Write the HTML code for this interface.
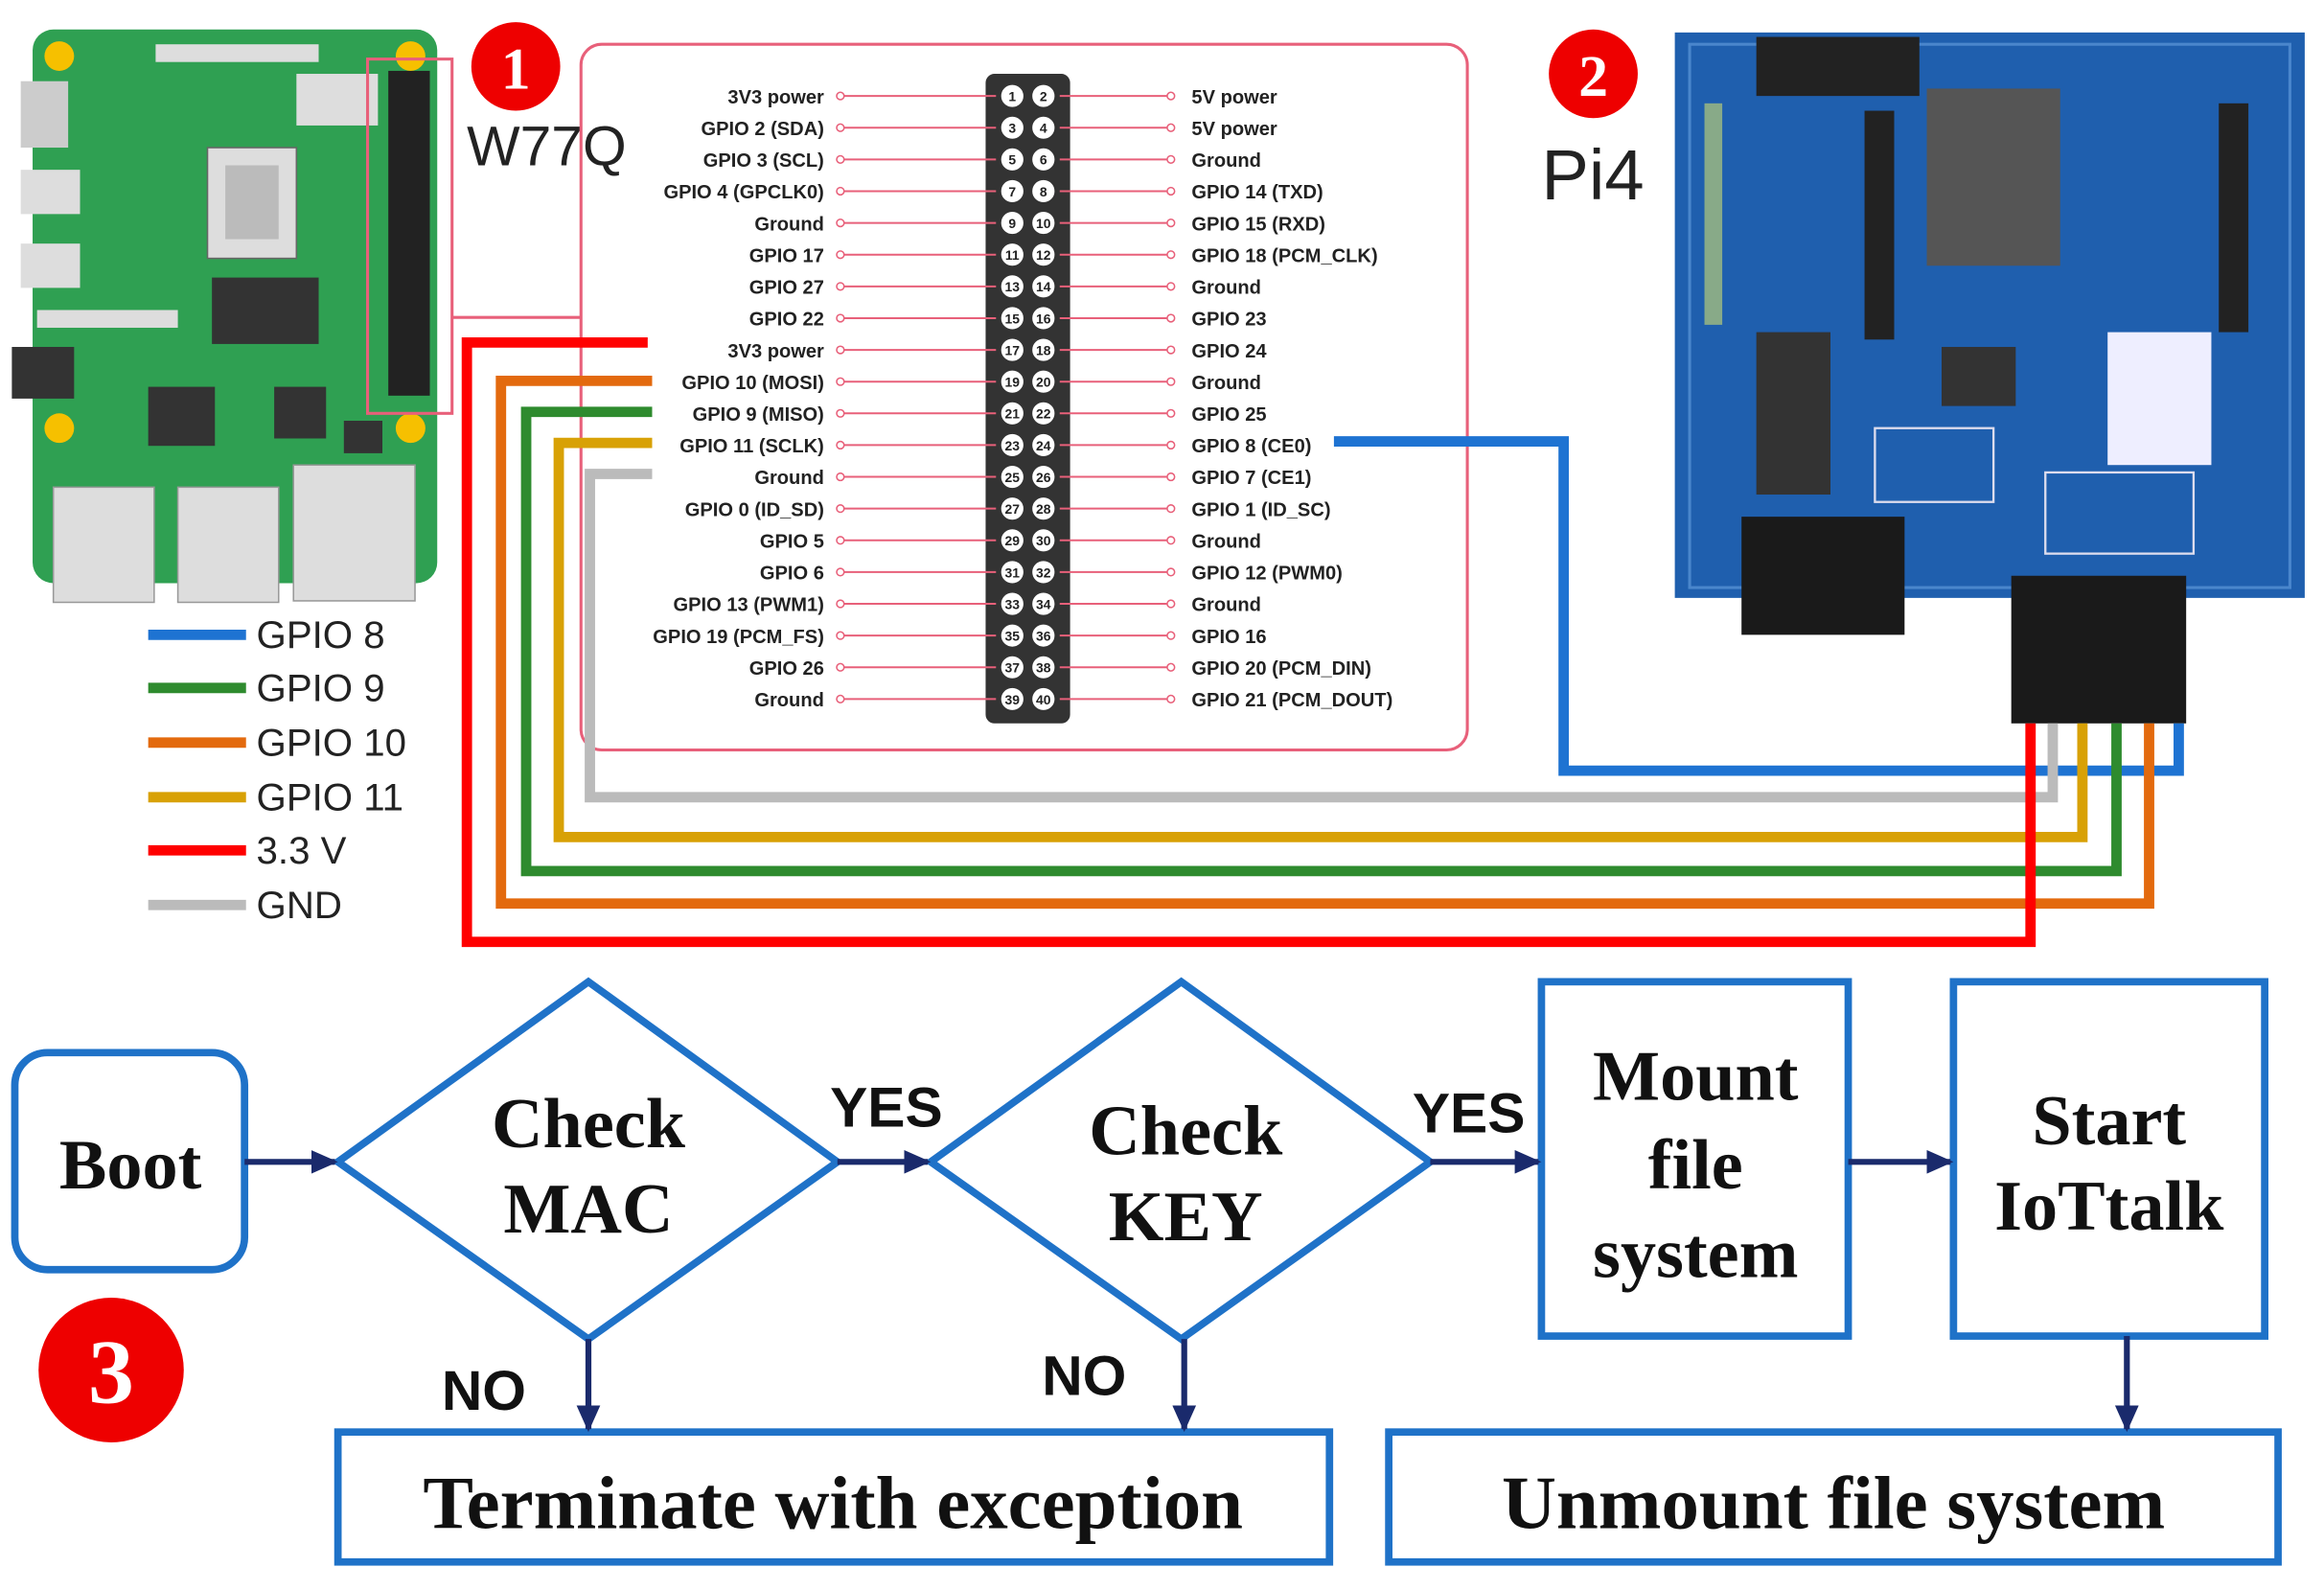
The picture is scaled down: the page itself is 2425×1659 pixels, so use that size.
<!DOCTYPE html>
<html><head><meta charset="utf-8"><style>html,body{margin:0;padding:0;background:#fff}svg{display:block}</style></head>
<body>
<svg width="2425" height="1659" viewBox="0 0 1568 1077" preserveAspectRatio="none" xmlns="http://www.w3.org/2000/svg">
<rect width="1568" height="1077" fill="#fff"/>
<!-- Raspberry Pi board -->
<rect x="22" y="20" width="273" height="375" rx="14" fill="#2fa052"/>
<rect x="14" y="55" width="32" height="45" fill="#ccc"/><rect x="14" y="115" width="40" height="30" fill="#ddd"/><rect x="14" y="165" width="40" height="30" fill="#ddd"/>
<rect x="8" y="235" width="42" height="35" fill="#333"/>
<rect x="140" y="100" width="60" height="75" fill="#ddd" stroke="#666"/><rect x="152" y="112" width="36" height="50" fill="#bbb"/>
<rect x="143" y="188" width="72" height="45" fill="#333"/>
<rect x="100" y="262" width="45" height="40" fill="#333"/><rect x="185" y="262" width="35" height="35" fill="#333"/>
<rect x="200" y="50" width="55" height="35" fill="#ddd"/>
<rect x="105" y="30" width="110" height="12" fill="#ddd"/>
<rect x="25" y="210" width="95" height="12" fill="#ddd"/>
<rect x="36" y="330" width="68" height="78" fill="#ddd" stroke="#999"/><rect x="120" y="330" width="68" height="78" fill="#ddd" stroke="#999"/><rect x="198" y="315" width="82" height="92" fill="#ddd" stroke="#999"/>
<circle cx="40" cy="38" r="10" fill="#f6c000"/><circle cx="277" cy="38" r="10" fill="#f6c000"/><circle cx="40" cy="290" r="10" fill="#f6c000"/><circle cx="277" cy="290" r="10" fill="#f6c000"/>
<rect x="262" y="48" width="28" height="220" fill="#222"/>
<rect x="232" y="285" width="26" height="22" fill="#333"/>
<rect x="248" y="40" width="57" height="240" fill="none" stroke="#e8607a" stroke-width="2"/>
<line x1="305" y1="215" x2="392" y2="215" stroke="#e8607a" stroke-width="2"/>
<!-- legend -->
<g stroke-width="7">
<line x1="100" y1="430" x2="166" y2="430" stroke="#1e73d2"/><line x1="100" y1="466" x2="166" y2="466" stroke="#2e8b2e"/>
<line x1="100" y1="503" x2="166" y2="503" stroke="#e36a0e"/><line x1="100" y1="540" x2="166" y2="540" stroke="#d8a106"/>
<line x1="100" y1="576" x2="166" y2="576" stroke="#f00"/><line x1="100" y1="613" x2="166" y2="613" stroke="#bbb"/>
</g>
<g font-family="Liberation Sans, sans-serif" font-size="26" fill="#222">
<text x="173" y="439">GPIO 8</text><text x="173" y="475">GPIO 9</text><text x="173" y="512">GPIO 10</text><text x="173" y="549">GPIO 11</text><text x="173" y="585">3.3 V</text><text x="173" y="622">GND</text>
</g>
<circle cx="348" cy="45" r="30" fill="#e00"/><text x="348" y="60" font-family="Liberation Serif,serif" font-weight="bold" font-size="40" fill="#fff" text-anchor="middle">1</text>
<text x="315" y="112" font-family="Liberation Sans,sans-serif" font-size="38" fill="#222">W77Q</text>
<!-- pinout box -->
<rect x="392" y="30" width="598" height="478" rx="14" fill="none" stroke="#e8607a" stroke-width="2"/>
<rect x="665" y="50" width="57" height="440" rx="6" fill="#333"/>
<g font-family="Liberation Sans, sans-serif" font-size="13" fill="#222" font-weight="bold">
<g id="pins"></g>
</g>
<script>
var L=["3V3 power","GPIO 2 (SDA)","GPIO 3 (SCL)","GPIO 4 (GPCLK0)","Ground","GPIO 17","GPIO 27","GPIO 22","3V3 power","GPIO 10 (MOSI)","GPIO 9 (MISO)","GPIO 11 (SCLK)","Ground","GPIO 0 (ID_SD)","GPIO 5","GPIO 6","GPIO 13 (PWM1)","GPIO 19 (PCM_FS)","GPIO 26","Ground"];
var R=["5V power","5V power","Ground","GPIO 14 (TXD)","GPIO 15 (RXD)","GPIO 18 (PCM_CLK)","Ground","GPIO 23","GPIO 24","Ground","GPIO 25","GPIO 8 (CE0)","GPIO 7 (CE1)","GPIO 1 (ID_SC)","Ground","GPIO 12 (PWM0)","Ground","GPIO 16","GPIO 20 (PCM_DIN)","GPIO 21 (PCM_DOUT)"];
var ns="http://www.w3.org/2000/svg",g=document.getElementById("pins");
function el(t,a,s){var e=document.createElementNS(ns,t);for(var k in a)e.setAttribute(k,a[k]);if(s)e.textContent=s;g.appendChild(e);}
for(var i=0;i<20;i++){var y=65+i*21.5;
el("line",{x1:567,y1:y,x2:672,y2:y,stroke:"#e8607a","stroke-width":1.3});
el("line",{x1:715,y1:y,x2:790,y2:y,stroke:"#e8607a","stroke-width":1.3});
el("circle",{cx:567,cy:y,r:2.5,fill:"#fff",stroke:"#e8607a"});el("circle",{cx:790,cy:y,r:2.5,fill:"#fff",stroke:"#e8607a"});
el("circle",{cx:683,cy:y,r:8,fill:"#fff",stroke:"#333"});el("circle",{cx:704,cy:y,r:8,fill:"#fff",stroke:"#333"});
el("text",{x:683,y:y+3.5,"font-size":9,"text-anchor":"middle"},String(2*i+1));el("text",{x:704,y:y+3.5,"font-size":9,"text-anchor":"middle"},String(2*i+2));
el("text",{x:556,y:y+5,"text-anchor":"end"},L[i]);el("text",{x:804,y:y+5},R[i]);}
</script>
<!-- Pi4 module -->
<rect x="1130" y="22" width="425" height="383" fill="#1f5fae"/>
<rect x="1140" y="30" width="405" height="368" fill="none" stroke="#4a86cc" stroke-width="2"/>
<rect x="1185" y="25" width="110" height="40" fill="#222"/>
<rect x="1300" y="60" width="90" height="120" fill="#555"/>
<rect x="1258" y="75" width="20" height="155" fill="#222"/><rect x="1497" y="70" width="20" height="155" fill="#222"/>
<rect x="1150" y="70" width="12" height="150" fill="#8a8"/>
<rect x="1185" y="225" width="50" height="110" fill="#333"/>
<rect x="1310" y="235" width="50" height="40" fill="#333"/>
<rect x="1422" y="225" width="70" height="90" fill="#eef"/>
<rect x="1265" y="290" width="80" height="50" fill="none" stroke="#dde" stroke-width="1.5"/>
<rect x="1380" y="320" width="100" height="55" fill="none" stroke="#dde" stroke-width="1.5"/>
<rect x="1175" y="350" width="110" height="80" fill="#1a1a1a"/>
<rect x="1357" y="390" width="118" height="100" fill="#1a1a1a"/>
<circle cx="1075" cy="50" r="30" fill="#e00"/><text x="1075" y="65" font-family="Liberation Serif,serif" font-weight="bold" font-size="40" fill="#fff" text-anchor="middle">2</text>
<text x="1040" y="135" font-family="Liberation Sans,sans-serif" font-size="48" fill="#222">Pi4</text>
<!-- wires -->
<g fill="none" stroke-width="7">
<polyline points="900,299 1055,299 1055,522 1470,522 1470,490" stroke="#1e73d2"/>
<polyline points="440,321 398,321 398,540 1385,540 1385,490" stroke="#bbb"/>
<polyline points="440,300 377,300 377,567 1405,567 1405,490" stroke="#d8a106"/>
<polyline points="440,279 355,279 355,590 1428,590 1428,490" stroke="#2e8b2e"/>
<polyline points="440,258 338,258 338,612 1450,612 1450,490" stroke="#e36a0e"/>
<polyline points="437,232 315,232 315,638 1370,638 1370,490" stroke="#f00"/>
</g>
<!-- flowchart -->
<defs><marker id="a" markerWidth="4.5" markerHeight="4" refX="4" refY="2" orient="auto" markerUnits="strokeWidth"><path d="M0,0 L4.5,2 L0,4z" fill="#1a2a6c"/></marker></defs>
<g fill="#fff" stroke="#1f72c8" stroke-width="5">
<rect x="10" y="713" width="155" height="147" rx="22"/>
<polygon points="228,787 397,665 565,787 397,907"/>
<polygon points="628,787 797,665 965,787 797,907"/>
<rect x="1040" y="665" width="207" height="240"/>
<rect x="1318" y="665" width="210" height="240"/>
<rect x="228" y="970" width="669" height="88"/>
<rect x="937" y="970" width="600" height="88"/>
</g>
<g stroke="#1a2a6c" stroke-width="4" fill="none" marker-end="url(#a)">
<line x1="165" y1="787" x2="226" y2="787"/>
<line x1="565" y1="787" x2="626" y2="787"/>
<line x1="965" y1="787" x2="1038" y2="787"/>
<line x1="1247" y1="787" x2="1316" y2="787"/>
<line x1="397" y1="907" x2="397" y2="968"/>
<line x1="799" y1="907" x2="799" y2="968"/>
<line x1="1435" y1="905" x2="1435" y2="968"/>
</g>
<g font-family="Liberation Serif,serif" font-weight="bold" fill="#111" text-anchor="middle" font-size="48">
<text x="88" y="805">Boot</text>
<text x="397" y="777">Check</text><text x="397" y="835">MAC</text>
<text x="800" y="782">Check</text><text x="800" y="840">KEY</text>
<text x="1144" y="745">Mount</text><text x="1144" y="805">file</text><text x="1144" y="865">system</text>
<text x="1423" y="775">Start</text><text x="1423" y="833">IoTtalk</text>
<text x="562" y="1035" font-size="51">Terminate with exception</text>
<text x="1237" y="1035" font-size="51">Unmount file system</text>
</g>
<g font-family="Liberation Sans,sans-serif" font-weight="bold" fill="#111" font-size="38">
<text x="560" y="763">YES</text><text x="953" y="767">YES</text>
<text x="298" y="955">NO</text><text x="703" y="945">NO</text>
</g>
<circle cx="75" cy="928" r="49" fill="#e00"/><text x="75" y="950" font-family="Liberation Serif,serif" font-weight="bold" font-size="62" fill="#fff" text-anchor="middle">3</text>
</svg>
</body></html>
